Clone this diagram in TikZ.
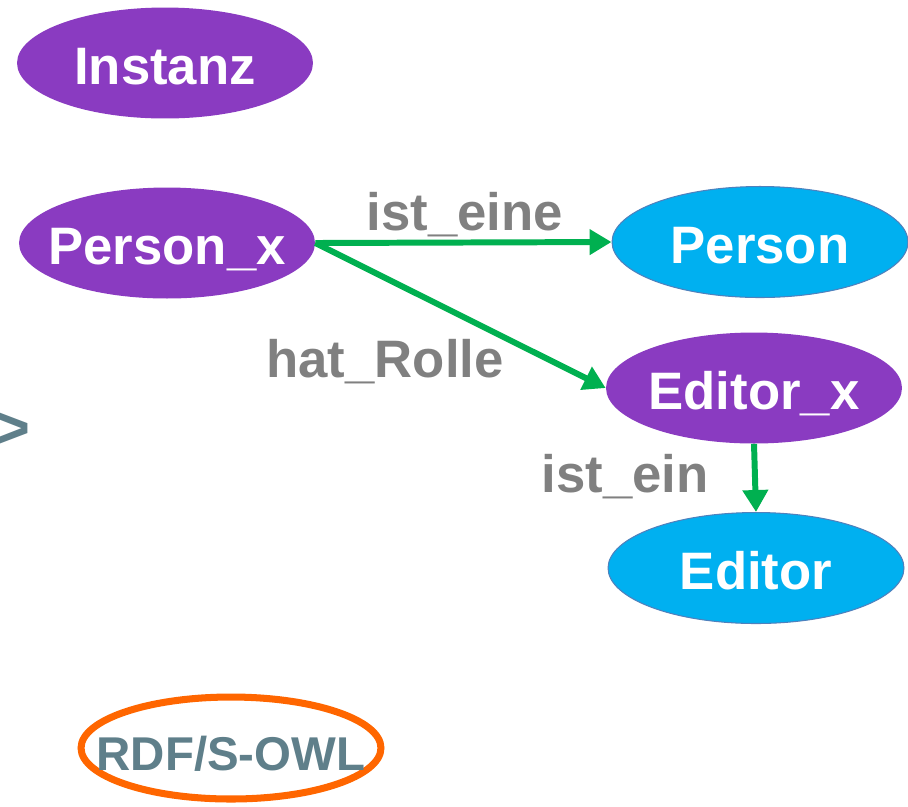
\documentclass[tikz,border=0pt]{standalone}
\usepackage{fontspec}
\setmainfont{Liberation Sans}
\usetikzlibrary{arrows.meta,shapes.geometric}
\definecolor{lila}{HTML}{8A3BC1}
\definecolor{hellblau}{HTML}{00B0F0}
\definecolor{randblau}{HTML}{4F81BD}
\definecolor{gruen}{HTML}{00B050}
\definecolor{grau}{HTML}{808080}
\definecolor{schiefer}{HTML}{5F7F8A}
\definecolor{orange}{HTML}{FF6600}
\newcommand{\mitte}[1]{\makebox[0pt]{\raisebox{-0.42cm}[0pt][0pt]{#1}}}

\begin{document}
\begin{tikzpicture}[x=0.02cm,y=-0.02cm,
  instanz/.style={ellipse,fill=lila,text=white,inner sep=0pt,
    minimum width=5.92cm,minimum height=2.22cm,
    font=\bfseries\fontsize{30}{36}\selectfont},
  klasse/.style={instanz,fill=hellblau,draw=randblau,line width=0.6pt},
  rel/.style={text=grau,inner sep=0pt,font=\bfseries\fontsize{30}{36}\selectfont},
  pfeil/.style={draw=gruen,line width=3.4pt,-{Triangle[length=12.5pt,width=14pt]}}]
\useasboundingbox (0,0) rectangle (908,806);
\node[instanz] (instanz) at (165,63) {\mitte{Instanz}};
\node[instanz] (personx) at (167,243) {\mitte{Person\_x}};
\node[klasse] (person) at (760,242) {\mitte{Person}};
\node[instanz] (editorx) at (754,388) {\mitte{Editor\_x}};
\node[klasse] (editor) at (756,568) {\mitte{Editor}};
\node[rel] (isteine) at (465,215) {ist\_eine};
\node[rel] (hatrolle) at (385,362) {hat\_Rolle};
\node[rel] (istein) at (625,477) {ist\_ein};
\draw[pfeil] (personx.east) -- (person.west);
\draw[pfeil] (personx.east) -- (editorx.west);
\draw[pfeil] (editorx.south) -- (editor.north);
% Randzeichen und Sprachrahmen
\node[anchor=base east,inner sep=0pt,text=schiefer,font=\bfseries\fontsize{36}{40}\selectfont] (pfeilzeichen) at (31,449) {>};
\node[ellipse,draw=orange,line width=4pt,text=schiefer,inner sep=0pt,
  minimum width=6.0cm,minimum height=2.04cm,font=\bfseries\fontsize{27}{32}\selectfont] (sprache) at (231,748) {\mitte{\raisebox{-0.02cm}{RDF/S-OWL}}};
\end{tikzpicture}
\end{document}
